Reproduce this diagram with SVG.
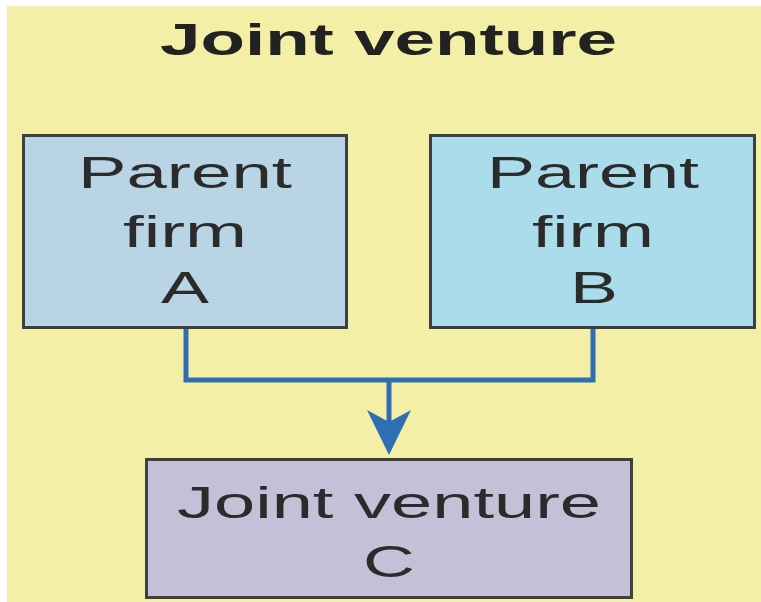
<svg xmlns="http://www.w3.org/2000/svg" width="761" height="602" viewBox="0 0 761 602">
  <defs>
    <style>
      .box { stroke: #3f3f3f; stroke-width: 3; }
      .lbl { font-family: "Liberation Sans", Arial, sans-serif; font-size: 44px; fill: #2b2b2b; text-anchor: middle; }
      .title { font-family: "Liberation Sans", Arial, sans-serif; font-size: 44px; font-weight: bold; fill: #222; text-anchor: middle; }
      .conn { fill: none; stroke: #2d6fb2; stroke-width: 5; }
    </style>
    <marker id="arrow" markerUnits="userSpaceOnUse" markerWidth="46" markerHeight="46" viewBox="0 -23 46 46" refX="30" refY="0" orient="auto">
      <path d="M45,0 L0,-22 L12,0 L0,22 Z" fill="#2d6fb2"/>
    </marker>
  </defs>
  <rect x="0" y="0" width="761" height="602" fill="#ffffff"/>
  <rect x="7" y="6" width="754" height="596" fill="#f3efa6"/>
  <text class="title" x="388.5" y="55" textLength="457" lengthAdjust="spacingAndGlyphs">Joint venture</text>

  <g id="connectors">
    <path class="conn" d="M186,329 V380 H593 V329"/>
    <path class="conn" d="M389,380 V440" marker-end="url(#arrow)"/>
  </g>

  <g id="parentA">
    <rect class="box" x="23.5" y="135.5" width="323" height="192" fill="#b9d4e4"/>
    <text class="lbl" x="185" y="188" textLength="214" lengthAdjust="spacingAndGlyphs">Parent</text>
    <text class="lbl" x="185" y="247" textLength="124" lengthAdjust="spacingAndGlyphs">firm</text>
    <text class="lbl" x="185" y="303" textLength="48" lengthAdjust="spacingAndGlyphs">A</text>
  </g>

  <g id="parentB">
    <rect class="box" x="430.5" y="135.5" width="324" height="192" fill="#abdceb"/>
    <text class="lbl" x="593" y="188" textLength="212" lengthAdjust="spacingAndGlyphs">Parent</text>
    <text class="lbl" x="593" y="247" textLength="122" lengthAdjust="spacingAndGlyphs">firm</text>
    <text class="lbl" x="594" y="303" textLength="48" lengthAdjust="spacingAndGlyphs">B</text>
  </g>

  <g id="jointC">
    <rect class="box" x="146.5" y="459.5" width="485" height="138" fill="#c3c0d7"/>
    <text class="lbl" x="389" y="518" textLength="424" lengthAdjust="spacingAndGlyphs">Joint venture</text>
    <text class="lbl" x="389" y="577" textLength="52" lengthAdjust="spacingAndGlyphs">C</text>
  </g>
</svg>
